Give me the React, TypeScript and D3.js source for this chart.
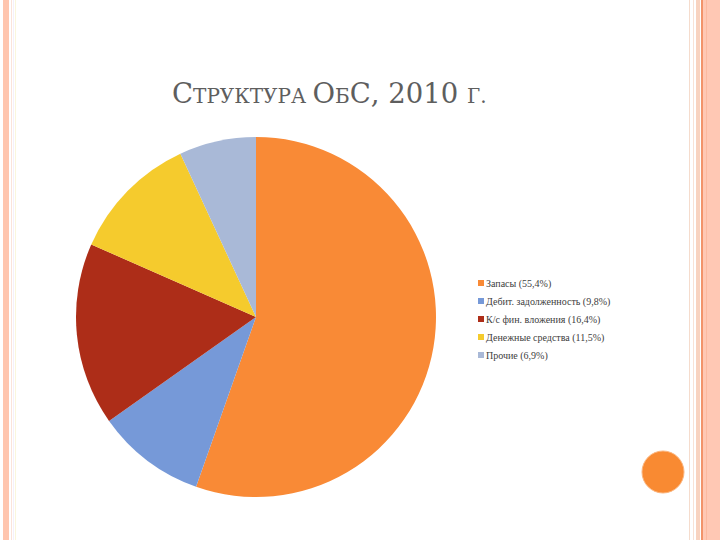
import React from "react";
import * as d3 from "d3";

const categories = ["Запасы", "Дебит. задолженность", "К/с фин. вложения", "Денежные средства", "Прочие"];
const values = [55.4, 9.8, 16.4, 11.5, 6.9];
const labels = ["Запасы (55,4%)", "Дебит. задолженность (9,8%)", "К/с фин. вложения (16,4%)", "Денежные средства (11,5%)", "Прочие (6,9%)"];
const colors = ["#F98A36", "#7699D8", "#AD2D18", "#F5CB2D", "#A9B9D7"];

export default function App() {
  const cx = 256, cy = 317, r = 180;
  const pie = d3.pie<number>().sort(null).value((d) => d);
  const arcs = pie(values);
  const arc = d3.arc<d3.PieArcDatum<number>>().innerRadius(0).outerRadius(r);
  const legendY = d3.scalePoint<string>().domain(categories).range([283, 355]);
  const big = 27.5, small = 20;
  const serif = "'Liberation Serif', 'DejaVu Serif', serif";
  const titleFont = "'DejaVu Serif', serif";
  return (
    <svg width={720} height={540} style={{ position: "absolute", left: 0, top: 0 }}>
      <rect width={720} height={540} fill="#fff" />
      {/* left border stripes */}
      <rect x={3} y={0} width={6} height={540} fill="#FFC5AE" />
      <rect x={11} y={0} width={1} height={540} fill="#FBE3DA" />
      <rect x={13} y={0} width={1} height={540} fill="#F5F0FA" />
      <rect x={15} y={0} width={1} height={540} fill="#FAF6DD" />
      {/* right border stripes */}
      <rect x={689} y={0} width={1} height={540} fill="#F5DCCD" />
      <rect x={693} y={0} width={1} height={540} fill="#F8E2D6" />
      <rect x={696} y={0} width={4} height={540} fill="#F8D3C0" />
      <rect x={701} y={0} width={2} height={540} fill="#F2936A" />
      <rect x={703} y={0} width={17} height={540} fill="#FFC8B4" />
      <rect x={706} y={0} width={1} height={540} fill="#FBB9A0" />
      {/* title */}
      <text x={172} y={103} fill="#5E5E5E" fontFamily={titleFont} fontSize={small}>
        <tspan fontSize={big}>С</tspan>ТРУКТУРА <tspan fontSize={big}>О</tspan>Б<tspan fontSize={big}>С</tspan>
        <tspan fontSize={big}>, 2010 </tspan>Г.
      </text>
      {/* pie */}
      <g transform={`translate(${cx},${cy})`}>
        {arcs.map((a, i) => (
          <path key={i} d={arc(a) || ""} fill={colors[i]} />
        ))}
      </g>
      {/* legend */}
      {categories.map((c, i) => (
        <g key={c} transform={`translate(478,${legendY(c)})`}>
          <rect x={0} y={-3} width={6} height={6} fill={colors[i]} />
          <text x={8} y={3.5} fontFamily={serif} fontSize={10} fill="#404040">
            {labels[i]}
          </text>
        </g>
      ))}
      {/* decorative circle */}
      <circle cx={663} cy={472} r={21} fill="#F98A32" stroke="#FBB57E" strokeWidth={1} />
    </svg>
  );
}
